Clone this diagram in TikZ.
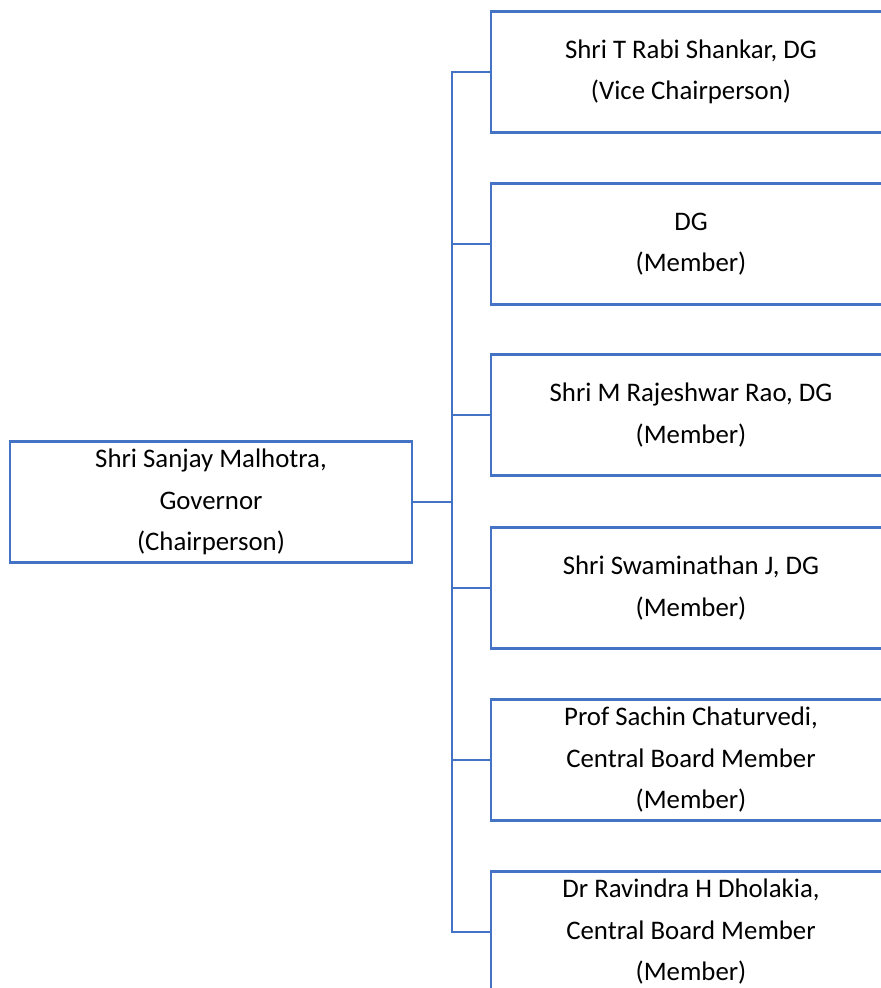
\documentclass[tikz,border=0pt]{standalone}
\usepackage{fontspec}
\setmainfont{Carlito}
\usepackage{xcolor}
\usepackage{tikz}
\usetikzlibrary{calc}
\usetikzlibrary{positioning}

\definecolor{wordblue}{HTML}{4472C4}

\begin{document}
\begin{tikzpicture}[x=0.5pt, y=-0.5pt,
  box/.style={rectangle, draw=wordblue, line width=1.2pt, align=center,
    inner sep=0pt, minimum height=60.5pt,
    font=\fontsize{13.4}{20.75}\selectfont},
  member/.style={box, minimum width=200pt},
  link/.style={draw=wordblue, line width=1.2pt}]
\clip (0, 0) rectangle (881, 988);
\node [box, minimum width=201pt] (G) at (211, 502) {Shri Sanjay Malhotra,\\Governor\\(Chairperson)};
\node [member] (V) at (691, 72) {Shri T Rabi Shankar, DG\\(Vice Chairperson)};
\node [member] (D) at (691, 244) {DG\\(Member)};
\node [member] (R) at (691, 415) {Shri M Rajeshwar Rao, DG\\(Member)};
\node [member] (S) at (691, 588) {Shri Swaminathan J, DG\\(Member)};
\node [member] (C) at (691, 760) {Prof Sachin Chaturvedi,\\Central Board Member\\(Member)};
\node [member] (H) at (691, 932) {Dr Ravindra H Dholakia,\\Central Board Member\\(Member)};
\coordinate (J) at (452, 502);
\draw [link] (G.east) -- (J);
\draw [link] (V.west) -- (V.west -| J) -- (H.west -| J) -- (H.west);
\draw [link] (D.west -| J) -- (D.west);
\draw [link] (R.west -| J) -- (R.west);
\draw [link] (S.west -| J) -- (S.west);
\draw [link] (C.west -| J) -- (C.west);
\end{tikzpicture}
\end{document}
